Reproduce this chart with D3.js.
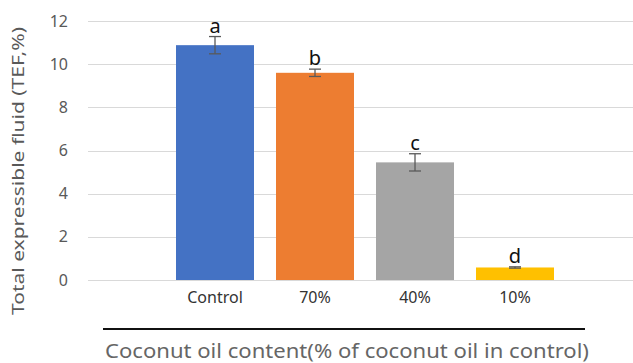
<!DOCTYPE html>
<html>
<head>
<meta charset="utf-8">
<script src="https://cdn.jsdelivr.net/npm/d3@7"></script>
<style>
  html, body { margin: 0; padding: 0; background: #fff; }
  svg { display: block; font-family: "Noto Sans", "Open Sans", sans-serif; }
</style>
</head>
<body>
<svg id="chart" width="633" height="363"></svg>
<script>
// Total expressible fluid by coconut oil content
const categories = ["Control", "70%", "40%", "10%"];
const means = [10.88, 9.60, 5.45, 0.58];
const errors = [0.40, 0.17, 0.40, 0.03];
const groupLetters = ["a", "b", "c", "d"];
const barColors = ["#4472C4", "#ED7D31", "#A5A5A5", "#FFC000"];
const yTicks = [0, 2, 4, 6, 8, 10, 12];

const svg = d3.select("#chart");

const x = d3.scaleBand()
  .domain(categories)
  .range([165, 565])
  .paddingInner(0.22)
  .paddingOuter(0.11);

const y = d3.scaleLinear()
  .domain([0, 12])
  .range([280, 21]);

// Horizontal gridlines
svg.append("g")
  .selectAll("line")
  .data(yTicks)
  .join("line")
  .attr("x1", 88)
  .attr("x2", 633)
  .attr("y1", d => Math.round(y(d)) + 0.5)
  .attr("y2", d => Math.round(y(d)) + 0.5)
  .attr("stroke", "#d9d9d9")
  .attr("stroke-width", 1.2);

// Y axis tick labels
const yAxis = d3.axisLeft(y).tickValues(yTicks).tickSize(0).tickPadding(0);
const gy = svg.append("g").attr("transform", "translate(68,0)").call(yAxis);
gy.select(".domain").remove();
gy.selectAll("text")
  .attr("fill", "#595959")
  .attr("font-size", 16)
  .attr("font-family", "Noto Sans, sans-serif");

// Bars
svg.append("g")
  .selectAll("rect")
  .data(categories)
  .join("rect")
  .attr("x", d => x(d))
  .attr("width", x.bandwidth())
  .attr("y", (d, i) => y(means[i]))
  .attr("height", (d, i) => y(0) - y(means[i]))
  .attr("fill", (d, i) => barColors[i]);

// Error bars
const eb = svg.append("g")
  .attr("stroke", "#595959")
  .attr("stroke-width", 1.3);
categories.forEach((c, i) => {
  const cx = x(c) + x.bandwidth() / 2;
  const top = y(means[i] + errors[i]);
  const bot = y(means[i] - errors[i]);
  eb.append("line").attr("x1", cx).attr("x2", cx).attr("y1", top).attr("y2", bot);
  eb.append("line").attr("x1", cx - 6).attr("x2", cx + 6).attr("y1", top).attr("y2", top);
  eb.append("line").attr("x1", cx - 6).attr("x2", cx + 6).attr("y1", bot).attr("y2", bot);
});

// Significance letters above the error bars
svg.append("g")
  .selectAll("text")
  .data(categories)
  .join("text")
  .attr("x", d => x(d) + x.bandwidth() / 2)
  .attr("y", (d, i) => y(means[i] + errors[i]) - 4)
  .attr("text-anchor", "middle")
  .attr("font-size", 20)
  .attr("fill", "#111")
  .text((d, i) => groupLetters[i]);

// Category labels
const xAxis = d3.axisBottom(x).tickSize(0).tickPadding(0);
const gx = svg.append("g").attr("transform", "translate(0,297)").call(xAxis);
gx.select(".domain").remove();
gx.selectAll("text")
  .attr("fill", "#333")
  .attr("font-size", 16)
  .attr("dy", "0.35em")
  .attr("font-family", "Noto Sans, sans-serif");

// Rule above the axis title
svg.append("line")
  .attr("x1", 103).attr("x2", 585)
  .attr("y1", 329).attr("y2", 329)
  .attr("stroke", "#111")
  .attr("stroke-width", 2);

// Axis titles
svg.append("text")
  .attr("x", 347)
  .attr("y", 358)
  .attr("text-anchor", "middle")
  .attr("font-size", 19)
  .attr("fill", "#666")
  .attr("textLength", 484)
  .attr("lengthAdjust", "spacingAndGlyphs")
  .text("Coconut oil content(% of coconut oil in control)");

svg.append("text")
  .attr("transform", "translate(24,171) rotate(-90)")
  .attr("text-anchor", "middle")
  .attr("font-size", 16)
  .attr("fill", "#595959")
  .attr("textLength", 288)
  .attr("lengthAdjust", "spacingAndGlyphs")
  .text("Total expressible fluid (TEF,%)");
</script>
</body>
</html>
